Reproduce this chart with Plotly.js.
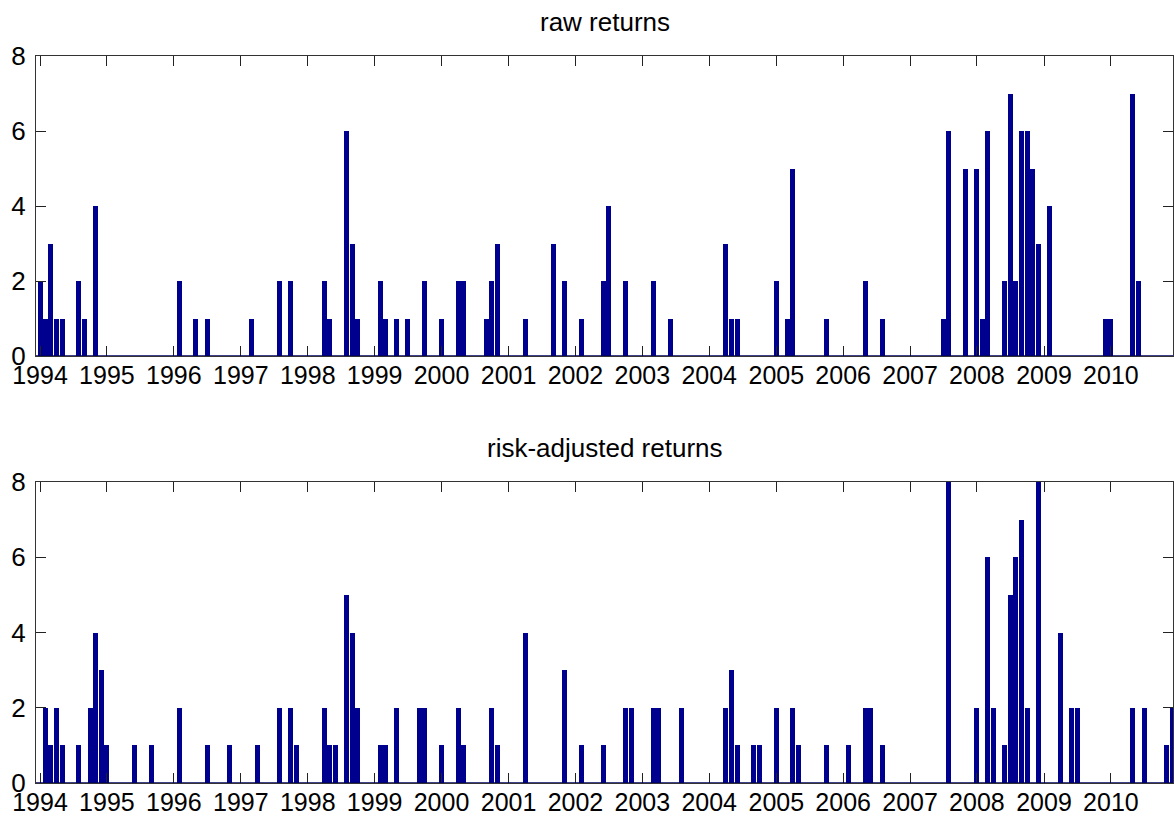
<!DOCTYPE html>
<html><head><meta charset="utf-8">
<script src="https://cdn.plot.ly/plotly-3.0.1.min.js"></script>
<style>html,body{margin:0;padding:0;background:#fff}#chart{width:1174px;height:816px}</style>
</head><body><div id="chart"></div>
<script>
// Monthly counts, raw returns (months with zero are omitted)
const rawMonths = ['1994-01','1994-02','1994-03','1994-04','1994-05','1994-08','1994-09','1994-11',
  '1996-02','1996-05','1996-07','1997-03','1997-08','1997-10','1998-04','1998-05','1998-08','1998-09','1998-10',
  '1999-02','1999-03','1999-05','1999-07','1999-10','2000-01','2000-04','2000-05','2000-09','2000-10','2000-11',
  '2001-04','2001-09','2001-11','2002-02','2002-06','2002-07','2002-10','2003-03','2003-06',
  '2004-04','2004-05','2004-06','2005-01','2005-03','2005-04','2005-10','2006-05','2006-08',
  '2007-07','2007-08','2007-11','2008-01','2008-02','2008-03','2008-06','2008-07','2008-08','2008-09','2008-10','2008-11','2008-12',
  '2009-02','2009-12','2010-01','2010-05','2010-06'];
const rawCounts = [2,1,3,1,1,2,1,4,
  2,1,1,1,2,2,2,1,6,3,1,
  2,1,1,1,2,1,2,2,1,2,3,
  1,3,2,1,2,4,2,2,1,
  3,1,1,2,1,5,1,2,1,
  1,6,5,5,1,6,2,7,2,6,6,5,3,
  4,1,1,7,2];

// Monthly counts, risk-adjusted returns
const riskMonths = ['1994-02','1994-03','1994-04','1994-05','1994-08','1994-10','1994-11','1994-12','1995-01','1995-06','1995-09',
  '1996-02','1996-07','1996-11','1997-04','1997-08','1997-10','1997-11','1998-04','1998-05','1998-06','1998-08','1998-09','1998-10',
  '1999-02','1999-03','1999-05','1999-09','1999-10','2000-01','2000-04','2000-05','2000-10','2000-11',
  '2001-04','2001-11','2002-02','2002-06','2002-10','2002-11','2003-03','2003-04','2003-08',
  '2004-04','2004-05','2004-06','2004-09','2004-10','2005-01','2005-04','2005-05','2005-10',
  '2006-02','2006-05','2006-06','2006-08','2007-08',
  '2008-01','2008-03','2008-04','2008-06','2008-07','2008-08','2008-09','2008-10','2008-12',
  '2009-04','2009-06','2009-07','2010-05','2010-07','2010-11','2010-12'];
const riskCounts = [2,1,2,1,1,2,4,3,1,1,1,
  2,1,1,1,2,2,1,2,1,1,5,4,2,
  1,1,2,2,2,1,2,1,2,1,
  4,3,1,1,2,2,2,2,2,
  2,3,1,1,1,2,2,1,1,
  1,2,2,1,8,
  2,6,2,1,5,6,7,2,8,
  4,2,2,2,2,1,2];

const yearLabels = ['1994','1995','1996','1997','1998','1999','2000','2001','2002',
  '2003','2004','2005','2006','2007','2008','2009','2010'];
const yTicks = [0,2,4,6,8];
const titles = ['raw returns','risk-adjusted returns'];

const barColor = '#00008F';
const FONT = 'Liberation Sans, Arial, sans-serif';
const monthMs = 30.44 * 86400000;
const toDate = m => m + '-01';

function barTrace(months, counts, xa, ya) {
  return {
    type: 'bar', x: months.map(toDate), y: counts, xaxis: xa, yaxis: ya,
    width: 0.9 * monthMs, marker: {color: barColor, line: {width: 0}},
    hoverinfo: 'x+y', showlegend: false
  };
}

const xRange = ['1993-12-10', '2010-12-06'];
function xAxis(anchor) {
  return {
    type: 'date', range: xRange, anchor: anchor,
    tickvals: yearLabels.map(y => y + '-01-01'), ticktext: yearLabels,
    ticks: 'inside', ticklen: 10, tickwidth: 1, tickcolor: '#222',
    showline: true, linecolor: '#333', linewidth: 1, mirror: 'allticks',
    showgrid: false, zeroline: false,
    tickfont: {family: FONT, size: 25, color: '#000'}, ticklabelstandoff: -3
  };
}
function yAxis(anchor, domain) {
  return {
    range: [0, 8], domain: domain, anchor: anchor,
    tickvals: yTicks, ticks: 'inside', ticklen: 10, tickwidth: 1, tickcolor: '#222',
    showline: true, linecolor: '#333', linewidth: 1, mirror: 'allticks',
    showgrid: false, zeroline: false,
    tickfont: {family: FONT, size: 26, color: '#000'}, ticklabelstandoff: 4
  };
}

const data = [
  barTrace(rawMonths, rawCounts, 'x', 'y'),
  barTrace(riskMonths, riskCounts, 'x2', 'y2')
];

const layout = {
  width: 1174, height: 816,
  margin: {l: 36, r: 1, t: 56, b: 33, pad: 0},
  paper_bgcolor: '#fff', plot_bgcolor: '#fff',
  bargap: 0,
  xaxis: xAxis('y'),
  yaxis: yAxis('x', [0.5873, 1]),
  xaxis2: xAxis('y2'),
  yaxis2: yAxis('x2', [0, 0.414]),
  annotations: [
    {text: titles[0], xref: 'paper', yref: 'paper', x: 0.5, y: 1, yshift: 34, showarrow: false,
      xanchor: 'center', yanchor: 'middle', font: {family: FONT, size: 26, color: '#000'}},
    {text: titles[1], xref: 'paper', yref: 'paper', x: 0.5, y: 0.414, yshift: 34, showarrow: false,
      xanchor: 'center', yanchor: 'middle', font: {family: FONT, size: 26, color: '#000'}}
  ],
  shapes: [
    {type: 'line', xref: 'x domain', yref: 'y', x0: 0, x1: 1, y0: 0, y1: 0, line: {color: '#000060', width: 1.5}},
    {type: 'line', xref: 'x2 domain', yref: 'y2', x0: 0, x1: 1, y0: 0, y1: 0, line: {color: '#000060', width: 1.5}}
  ]
};

Plotly.newPlot('chart', data, layout, {displayModeBar: false, staticPlot: true});
</script>
</body></html>
